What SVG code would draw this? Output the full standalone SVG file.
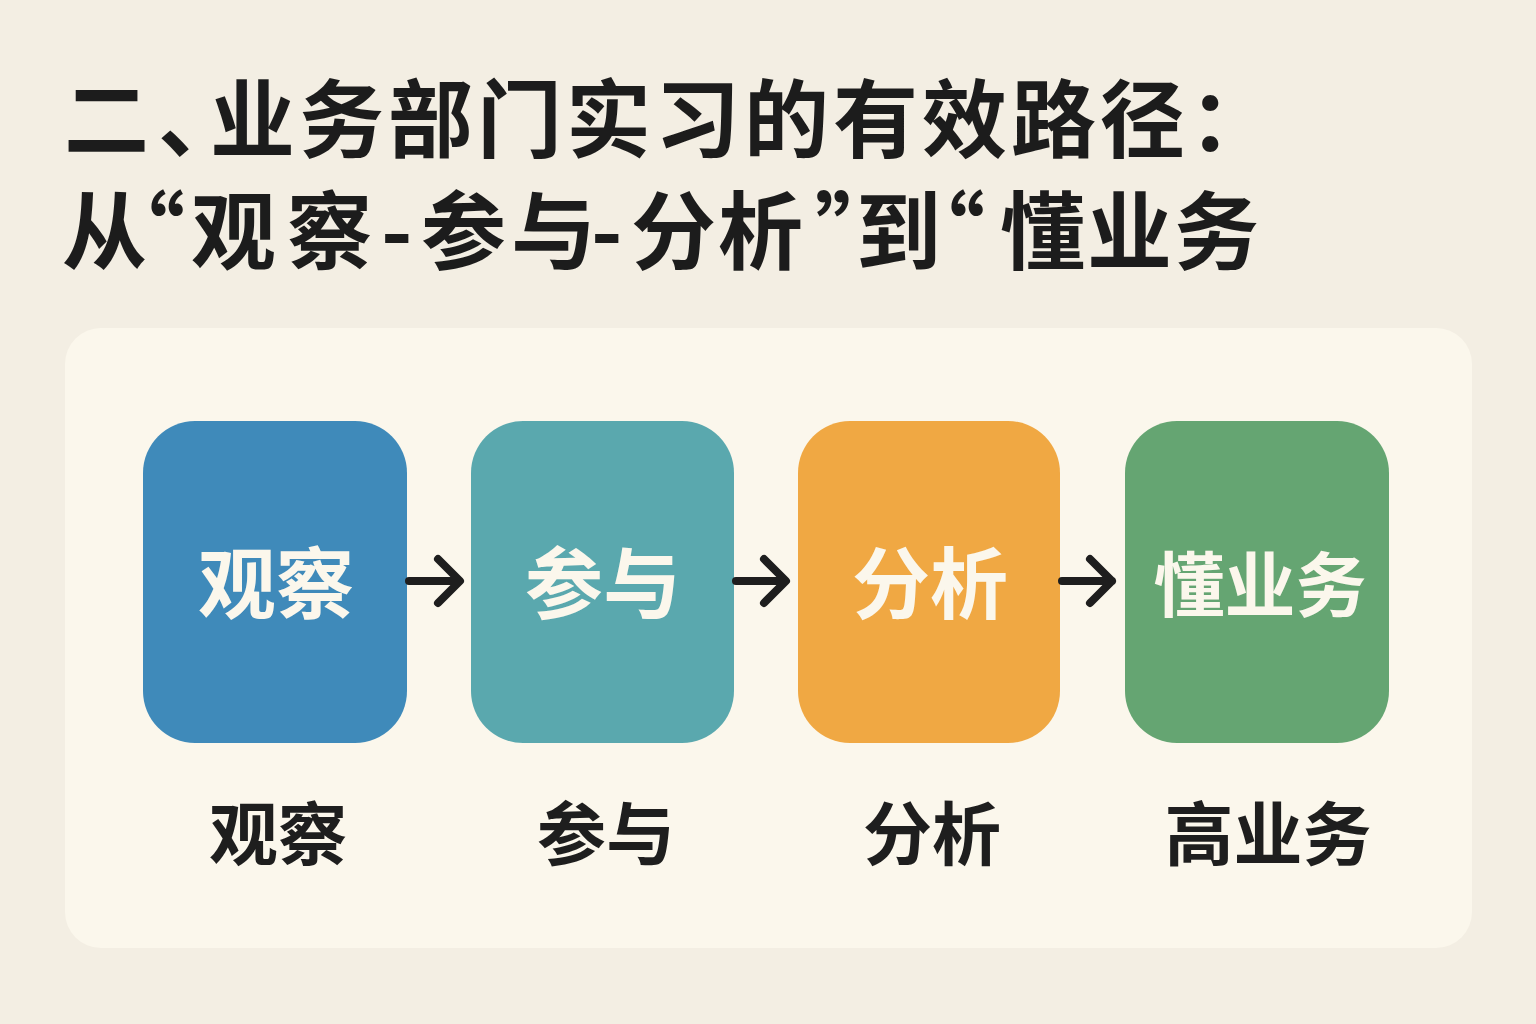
<svg xmlns="http://www.w3.org/2000/svg" width="1536" height="1024" viewBox="0 0 1536 1024">
<style>
.title{font-family:"Noto Sans CJK SC","Noto Sans",sans-serif;font-weight:700;font-size:85px;fill:#1c1c1c}
.box-text{font-family:"Noto Sans CJK SC","Noto Sans",sans-serif;font-weight:700;font-size:78px;fill:#fbf7ec;text-anchor:middle}
.box-text3{font-size:71px}
.label{font-family:"Noto Sans CJK SC","Noto Sans",sans-serif;font-weight:700;font-size:69px;fill:#1e1e1e;text-anchor:middle}
.conn{fill:none;stroke:#1e1e1e;stroke-width:8;stroke-linecap:round;stroke-linejoin:round}
</style>
<rect x="0" y="0" width="1536" height="1024" fill="#f3eee3"/>
<rect x="65" y="328" width="1407" height="620" rx="36" fill="#fbf7ec"/>
<g id="title">
<text class="title" x="64 158 210 299 388 477 566 655 744 833 922 1011 1100 1189" y="151">二、业务部门实习的有效路径：</text>
<text class="title" x="62 100 191 287 381 421 511 591 631 718 815 856 900 1000 1087 1174" y="263">从“观察-参与-分析”到“懂业务</text>
</g>
<g id="node-observe">
<rect x="143" y="421" width="264" height="322" rx="52" fill="#3f8aba"/>
<text class="box-text" x="276" y="613">观察</text>
<text class="label" x="278" y="860">观察</text>
</g>
<g id="node-participate">
<rect x="471" y="421" width="263" height="322" rx="52" fill="#5aa8ae"/>
<text class="box-text" x="603" y="613">参与</text>
<text class="label" x="606" y="860">参与</text>
</g>
<g id="node-analyze">
<rect x="798" y="421" width="262" height="322" rx="52" fill="#f0a843"/>
<text class="box-text" x="930" y="613">分析</text>
<text class="label" x="932" y="860">分析</text>
</g>
<g id="node-understand">
<rect x="1125" y="421" width="264" height="322" rx="52" fill="#65a572"/>
<text class="box-text box-text3" x="1260" y="611">懂业务</text>
<text class="label" x="1268" y="860">高业务</text>
</g>
<g id="connectors">
<path class="conn" d="M409 581 H459 M438 559 L460 581 L438 603"/>
<path class="conn" d="M736 581 H785 M764 559 L786 581 L764 603"/>
<path class="conn" d="M1062 581 H1112 M1090 559 L1112 581 L1090 603"/>
</g>
</svg>
